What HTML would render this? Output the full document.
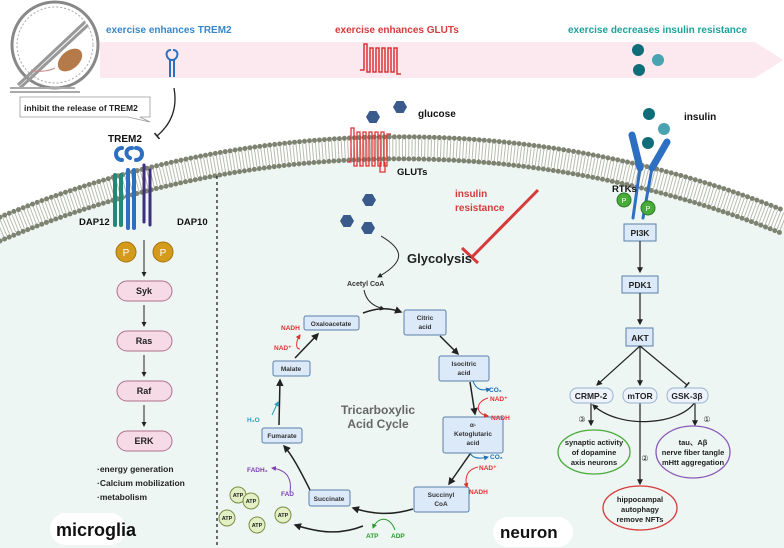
<!DOCTYPE html>
<html><head><meta charset="utf-8"><style>
html,body{margin:0;padding:0;background:#fff;width:784px;height:548px;overflow:hidden}
svg{display:block;font-family:"Liberation Sans",Arial,sans-serif;overflow:hidden}
</style></head><body>
<svg width="784" height="548" viewBox="0 0 784 548" xmlns="http://www.w3.org/2000/svg">
<defs>
<marker id="a" viewBox="0 0 10 10" refX="8" refY="5" markerWidth="5" markerHeight="5" orient="auto"><path d="M0,0L10,5L0,10z" fill="#222"/></marker>
<marker id="ar" viewBox="0 0 10 10" refX="8" refY="5" markerWidth="5" markerHeight="5" orient="auto"><path d="M0,0L10,5L0,10z" fill="#e03030"/></marker>
<marker id="ab" viewBox="0 0 10 10" refX="8" refY="5" markerWidth="5" markerHeight="5" orient="auto"><path d="M0,0L10,5L0,10z" fill="#1a6fb5"/></marker>
<marker id="ag" viewBox="0 0 10 10" refX="8" refY="5" markerWidth="5" markerHeight="5" orient="auto"><path d="M0,0L10,5L0,10z" fill="#2a9a2a"/></marker>
<marker id="ap" viewBox="0 0 10 10" refX="8" refY="5" markerWidth="5" markerHeight="5" orient="auto"><path d="M0,0L10,5L0,10z" fill="#8040b0"/></marker>
<marker id="ac" viewBox="0 0 10 10" refX="8" refY="5" markerWidth="5" markerHeight="5" orient="auto"><path d="M0,0L10,5L0,10z" fill="#2aa0c0"/></marker>
<marker id="t" viewBox="0 0 10 10" refX="5" refY="5" markerWidth="6" markerHeight="6" orient="auto"><path d="M5,0L5,10" stroke="#222" stroke-width="2"/></marker>
</defs>
<path d="M0,224.7A1030,1030 0 0 1 784,218.1L784,548L0,548Z" fill="#edf6f3"/>
<path d="M0,229A1026,1026 0 0 1 784,222.4" fill="none" stroke="#fff" stroke-width="22"/>
<path d="M0,229A1026,1026 0 0 1 784,222.4" fill="none" stroke="#b7bcae" stroke-width="18" stroke-dasharray="1 2.2"/>
<path d="M0,217.1A1037,1037 0 0 1 784,210.5" fill="none" stroke="#7d8271" stroke-width="5" stroke-dasharray="0 5" stroke-linecap="round"/>
<path d="M0,241A1015,1015 0 0 1 784,234.3" fill="none" stroke="#7d8271" stroke-width="5" stroke-dasharray="0 5" stroke-linecap="round"/>
<path d="M100,42H755L783,60L755,78H100z" fill="#fce9ef"/>
<text x="106" y="33" font-size="10" font-weight="bold" fill="#3a86c8">exercise enhances TREM2</text>
<text x="335" y="33" font-size="10" font-weight="bold" fill="#d63a3a">exercise enhances GLUTs</text>
<text x="568" y="33" font-size="10" font-weight="bold" fill="#1aa39a">exercise decreases insulin resistance</text>
<g stroke="#2d6fc0" stroke-width="2" fill="none"><path d="M170,60v17M174,60v17M172,60c-6,0 -8,-10 -1,-10M172,60c6,0 8,-10 1,-10"/></g>
<path d="M360,70h4v-26h3v28h3v-24h3v24h3v-24h3v24h3v-24h3v24h3v-24h3v24h3v-24h3v26h4" stroke="#d33" stroke-width="1.5" fill="none"/>
<circle cx="638" cy="50" r="6" fill="#0e6d78"/><circle cx="658" cy="60" r="6" fill="#4aa3b0"/><circle cx="639" cy="70" r="6" fill="#0e6d78"/>
<circle cx="55" cy="45" r="43" fill="none" stroke="#888" stroke-width="3"/>
<circle cx="55" cy="45" r="38" fill="none" stroke="#aaa" stroke-width="1" stroke-dasharray="2 2"/>
<path d="M18,85L85,22M20,88L88,25" stroke="#999" stroke-width="3"/>
<path d="M10,88H75M10,92H80" stroke="#aaa" stroke-width="2"/>
<ellipse cx="70" cy="60" rx="14" ry="9" fill="#b47a4a" transform="rotate(-40 70 60)"/>
<path d="M55,68c-8,4 -20,4 -24,2" stroke="#c88" fill="none"/>
<path d="M20,97H150V117H140L150,122L128,117H20z" fill="#fff" stroke="#999" stroke-width="0.8"/>
<text x="24" y="111" font-size="8.5" font-weight="bold" fill="#222">inhibit the release of TREM2</text>
<path d="M174,88C178,110 170,125 157,136" stroke="#222" stroke-width="1.3" fill="none" marker-end="url(#t)"/>
<text x="108" y="142" font-size="10" font-weight="bold" fill="#111">TREM2</text>
<g fill="none" stroke-linecap="round">
<path d="M115,175V225M121,175V225" stroke="#1f8a78" stroke-width="4"/>
<path d="M128,170V228M134,170V228" stroke="#2d6fc0" stroke-width="4"/>
<path d="M144,165V222M150,170V225" stroke="#3d2e80" stroke-width="3"/>
<path d="M122,160c-8,0 -8,-12 0,-12M136,160c8,0 8,-12 0,-12M130,158c-5,-2 -5,-10 2,-10" stroke="#2d6fc0" stroke-width="4"/>
</g>
<text x="79" y="225" font-size="9.5" font-weight="bold" fill="#111">DAP12</text>
<text x="177" y="225" font-size="9.5" font-weight="bold" fill="#111">DAP10</text>
<circle cx="126" cy="252" r="10" fill="#d39a1c" stroke="#a6750f"/><text x="126" y="256" font-size="10" fill="#fff" text-anchor="middle">P</text>
<circle cx="163" cy="252" r="10" fill="#d39a1c" stroke="#a6750f"/><text x="163" y="256" font-size="10" fill="#fff" text-anchor="middle">P</text>
<g stroke="#222" stroke-width="1" marker-end="url(#a)"><path d="M144,240V276"/><path d="M144,305V326"/><path d="M144,355V376"/><path d="M144,405V426"/></g>
<g fill="#f6dbe6" stroke="#b06f8a"><rect x="117" y="281" width="55" height="20" rx="10"/><rect x="117" y="331" width="55" height="20" rx="10"/><rect x="117" y="381" width="55" height="20" rx="10"/><rect x="117" y="431" width="55" height="20" rx="10"/></g>
<g font-size="9" font-weight="bold" text-anchor="middle" fill="#222"><text x="144" y="294">Syk</text><text x="144" y="344">Ras</text><text x="144" y="394">Raf</text><text x="144" y="444">ERK</text></g>
<g font-size="8.5" font-weight="bold" fill="#222"><text x="97" y="472">·energy generation</text><text x="97" y="486">·Calcium mobilization</text><text x="97" y="500">·metabolism</text></g>
<rect x="50" y="513" width="76" height="32" rx="16" fill="#fff"/>
<text x="56" y="536" font-size="18" font-weight="bold" fill="#111">microglia</text>
<line x1="217" y1="176" x2="217" y2="547" stroke="#222" stroke-width="1.3" stroke-dasharray="3 3"/>
<g fill="#3a5a8c">
<polygon points="366,117 369.5,111 376.5,111 380,117 376.5,123 369.5,123"/>
<polygon points="393,107 396.5,101 403.5,101 407,107 403.5,113 396.5,113"/>
<polygon points="362,200 365.5,194 372.5,194 376,200 372.5,206 365.5,206"/>
<polygon points="340,221 343.5,215 350.5,215 354,221 350.5,227 343.5,227"/>
<polygon points="361,228 364.5,222 371.5,222 375,228 371.5,234 364.5,234"/>
</g>
<text x="418" y="117" font-size="10" font-weight="bold" fill="#111">glucose</text>
<path d="M347,162h4v-34h3v38h3v-34h3v34h3v-34h3v34h3v-34h3v34h3v-34h3v34h3v-34h3v34h3v-32h4" stroke="#d33" stroke-width="1.3" fill="none"/>
<path d="M380,162v10h5v-10" stroke="#d33" stroke-width="1.3" fill="none"/>
<text x="397" y="175" font-size="9.5" font-weight="bold" fill="#111">GLUTs</text>
<text x="455" y="197" font-size="10" font-weight="bold" fill="#d63a3a">insulin</text>
<text x="455" y="211" font-size="10" font-weight="bold" fill="#d63a3a">resistance</text>
<path d="M538,190L472,257M462,248L478,263" stroke="#d63a3a" stroke-width="3"/>
<text x="407" y="263" font-size="13" font-weight="bold" fill="#222">Glycolysis</text>
<path d="M381,236C405,250 405,262 378,277" stroke="#222" fill="none" marker-end="url(#a)"/>
<text x="347" y="286" font-size="7" font-weight="bold" fill="#333">Acetyl CoA</text>
<g fill="none" stroke="#222" stroke-width="1.5" marker-end="url(#a)">
<path d="M363,313C380,307 390,308 401,312"/>
<path d="M440,336L458,354"/>
<path d="M470,382L475,414"/>
<path d="M470,454L449,484"/>
<path d="M413,509C390,516 372,514 353,508"/>
<path d="M363,526C340,535 320,533 295,525"/>
<path d="M310,490C300,470 292,455 284,446"/>
<path d="M279,425L280,380"/>
<path d="M295,358L318,334"/>
</g>
<path d="M364,290C366,300 372,306 384,309" stroke="#222" fill="none" marker-end="url(#a)"/>
<g fill="#dbe9f8" stroke="#5a7fab" stroke-width="1">
<rect x="304" y="316" width="55" height="14" rx="2"/><rect x="404" y="310" width="42" height="25" rx="2"/>
<rect x="439" y="356" width="50" height="25" rx="2"/><rect x="443" y="417" width="60" height="36" rx="2"/>
<rect x="414" y="487" width="55" height="25" rx="2"/><rect x="309" y="490" width="41" height="16" rx="2"/>
<rect x="262" y="428" width="40" height="15" rx="2"/><rect x="273" y="361" width="37" height="15" rx="2"/>
</g>
<g font-size="6.5" font-weight="bold" fill="#333" text-anchor="middle">
<text x="331" y="326">Oxaloacetate</text><text x="425" y="320">Citric</text><text x="425" y="329">acid</text>
<text x="464" y="366">Isocitric</text><text x="464" y="375">acid</text>
<text x="473" y="427">α-</text><text x="473" y="436">Ketoglutaric</text><text x="473" y="445">acid</text>
<text x="441" y="497">Succinyl</text><text x="441" y="506">CoA</text><text x="329" y="501">Succinate</text>
<text x="282" y="438">Fumarate</text><text x="291" y="371">Malate</text>
</g>
<text x="378" y="414" font-size="12" font-weight="bold" fill="#666" text-anchor="middle">Tricarboxylic</text>
<text x="378" y="428" font-size="12" font-weight="bold" fill="#666" text-anchor="middle">Acid Cycle</text>
<g font-size="6.5" font-weight="bold">
<text x="281" y="330" fill="#e03030">NADH</text><text x="274" y="350" fill="#e03030">NAD⁺</text>
<text x="489" y="392" fill="#1a6fb5">CO₂</text><text x="490" y="401" fill="#e03030">NAD⁺</text><text x="491" y="420" fill="#e03030">NADH</text>
<text x="490" y="459" fill="#1a6fb5">CO₂</text><text x="479" y="470" fill="#e03030">NAD⁺</text><text x="469" y="494" fill="#e03030">NADH</text>
<text x="247" y="472" fill="#8040b0">FADH₂</text><text x="281" y="496" fill="#8040b0">FAD</text>
<text x="247" y="422" fill="#2aa0c0">H₂O</text>
<text x="366" y="538" fill="#2a9a2a">ATP</text><text x="391" y="538" fill="#2a9a2a">ADP</text>
</g>
<g fill="none" stroke-width="1">
<path d="M300,349C296,349 295,343 300,335" stroke="#e03030" marker-end="url(#ar)"/>
<path d="M473,381C476,390 482,391 490,389" stroke="#1a6fb5" marker-end="url(#ab)"/>
<path d="M488,398C475,402 475,414 488,416" stroke="#e03030" marker-end="url(#ar)"/>
<path d="M470,453C473,459 480,459 488,457" stroke="#1a6fb5" marker-end="url(#ab)"/>
<path d="M478,467C465,470 465,480 467,487" stroke="#e03030" marker-end="url(#ar)"/>
<path d="M395,530C390,516 378,516 373,528" stroke="#2a9a2a" marker-end="url(#ag)"/>
<path d="M290,492C292,480 288,470 272,468" stroke="#8040b0" marker-end="url(#ap)"/>
<path d="M272,415L278,402" stroke="#2aa0c0" marker-end="url(#ac)"/>
</g>
<g fill="#e3efc4" stroke="#7a8d45" stroke-width="1">
<circle cx="238" cy="495" r="8"/><circle cx="251" cy="501" r="8"/><circle cx="227" cy="518" r="8"/><circle cx="257" cy="525" r="8"/><circle cx="283" cy="515" r="8"/>
</g>
<g font-size="5.5" font-weight="bold" fill="#222" text-anchor="middle">
<text x="238" y="497">ATP</text><text x="251" y="503">ATP</text><text x="227" y="520">ATP</text><text x="257" y="527">ATP</text><text x="283" y="517">ATP</text>
</g>
<rect x="493" y="517" width="80" height="30" rx="15" fill="#fff"/>
<text x="500" y="538" font-size="17" font-weight="bold" fill="#111">neuron</text>
<circle cx="649" cy="114" r="6" fill="#0e6d78"/><circle cx="664" cy="129" r="6" fill="#4aa3b0"/><circle cx="648" cy="143" r="6" fill="#0e6d78"/>
<text x="684" y="120" font-size="10" font-weight="bold" fill="#111">insulin</text>
<g stroke="#2d6fc0" stroke-linecap="round" fill="none">
<path d="M632,135L640,168M667,142L652,168" stroke-width="7"/>
<path d="M640,168L633,218M652,168L643,218" stroke-width="3"/>
</g>
<text x="612" y="192" font-size="9.5" font-weight="bold" fill="#111">RTKs</text>
<circle cx="624" cy="200" r="7" fill="#4aaa3a" stroke="#2a7a22"/><circle cx="648" cy="208" r="7" fill="#4aaa3a" stroke="#2a7a22"/>
<text x="624" y="203" font-size="7" fill="#fff" text-anchor="middle">P</text><text x="648" y="211" font-size="7" fill="#fff" text-anchor="middle">P</text>
<g fill="#dbe9f8" stroke="#5a7fab"><rect x="624" y="224" width="32" height="17"/><rect x="622" y="276" width="36" height="17"/><rect x="626" y="328" width="27" height="18"/></g>
<g font-size="8.5" font-weight="bold" fill="#222" text-anchor="middle"><text x="640" y="236">PI3K</text><text x="640" y="288">PDK1</text><text x="640" y="341">AKT</text></g>
<g stroke="#222" stroke-width="1.2" fill="none">
<path d="M640,241V272" marker-end="url(#a)"/><path d="M640,293V324" marker-end="url(#a)"/>
<path d="M640,346L597,385" marker-end="url(#a)"/><path d="M640,346V385" marker-end="url(#a)"/>
<path d="M640,346L687,385" marker-end="url(#t)"/>
<path d="M591,402V425" marker-end="url(#a)"/><path d="M640,402V484" marker-end="url(#a)"/><path d="M695,402V425" marker-end="url(#a)"/>
<path d="M695,402C680,425 620,430 593,405" marker-end="url(#a)"/>
</g>
<g fill="#eef3fb" stroke="#9ab0d0"><rect x="570" y="388" width="43" height="15" rx="7"/><rect x="623" y="388" width="34" height="15" rx="7"/><rect x="667" y="388" width="41" height="15" rx="7"/></g>
<g font-size="8.5" font-weight="bold" fill="#222" text-anchor="middle"><text x="591" y="399">CRMP-2</text><text x="640" y="399">mTOR</text><text x="687" y="399">GSK-3β</text></g>
<g font-size="8" fill="#222" text-anchor="middle"><text x="582" y="422">③</text><text x="645" y="461">②</text><text x="707" y="422">①</text></g>
<ellipse cx="594" cy="452" rx="36" ry="22" fill="none" stroke="#4aaa3a" stroke-width="1.3"/>
<ellipse cx="693" cy="452" rx="37" ry="26" fill="none" stroke="#8a5ab8" stroke-width="1.3"/>
<ellipse cx="640" cy="508" rx="37" ry="22" fill="none" stroke="#d63a3a" stroke-width="1.3"/>
<g font-size="7.5" font-weight="bold" fill="#222" text-anchor="middle">
<text x="594" y="445">synaptic activity</text><text x="594" y="455">of dopamine</text><text x="594" y="465">axis neurons</text>
<text x="693" y="445">tau、Aβ</text><text x="693" y="455">nerve fiber tangle</text><text x="693" y="465">mHtt aggregation</text>
<text x="640" y="502">hippocampal</text><text x="640" y="512">autophagy</text><text x="640" y="522">remove NFTs</text>
</g>
</svg>
</body></html>
